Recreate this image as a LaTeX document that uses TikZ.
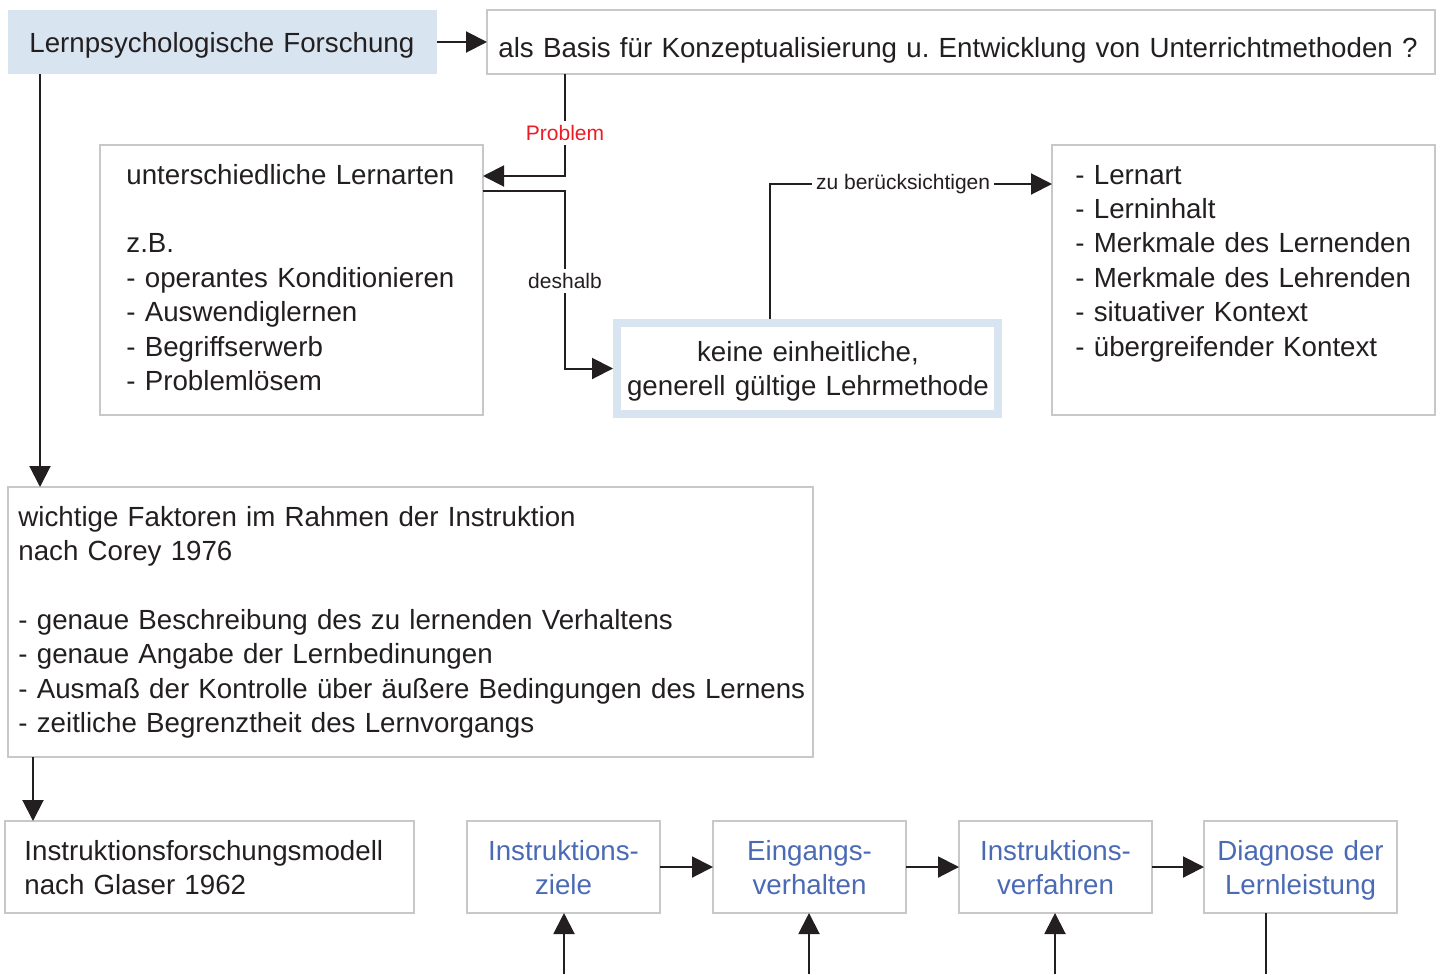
\documentclass[tikz,border=0pt]{standalone}
\usepackage{fontspec}
\setmainfont{Liberation Sans}
\usetikzlibrary{arrows.meta,calc}
\definecolor{txt}{HTML}{231F20}
\definecolor{boxgray}{HTML}{C8C8C8}
\definecolor{lightblue}{HTML}{D9E4F1}
\definecolor{bluetxt}{HTML}{4A6AB5}
\definecolor{probred}{HTML}{ED1C24}
\begin{document}
\frenchspacing
\begin{tikzpicture}[x=0.5pt,y=-0.5pt,
  box/.style={draw=boxgray,line width=1pt,rectangle,inner sep=0pt,outer sep=0pt},
  mainfont/.style={font=\fontsize{13.85}{17.2}\selectfont,text=txt},
  txtL/.style={mainfont,anchor=base west,align=left,inner sep=0pt,text width=#1},
  txtC/.style={mainfont,anchor=base,align=center,inner sep=0pt,text width=#1},
  arr/.style={line width=1pt,draw=txt,-{Triangle[length=10.5pt,width=10.5pt]}},
  conn/.style={line width=1pt,draw=txt},
  lbl/.style={font=\fontsize{10.5}{12}\selectfont,fill=white,inner sep=2pt,text=txt}]
\useasboundingbox (0,0) rectangle (1443,974);

% boxes
\node[box,draw=none,fill=lightblue,minimum width=214.5pt,minimum height=32pt] (A) at (222.5,42) {};
\node[box,minimum width=474pt,minimum height=32pt] (B) at (961,42) {};
\node[box,minimum width=191.5pt,minimum height=135pt] (C) at (291.5,280) {};
\node[draw=lightblue,line width=4pt,rectangle,minimum width=190.5pt,minimum height=45.5pt,inner sep=0pt,outer sep=2pt] (D) at (807.5,368.5) {};
\node[box,minimum width=191.5pt,minimum height=135pt] (E) at (1243.5,280) {};
\node[box,minimum width=402.5pt,minimum height=135pt] (F) at (410.5,622) {};
\node[box,minimum width=204.5pt,minimum height=46pt] (G) at (209.5,867) {};
\node[box,minimum width=96.5pt,minimum height=46pt] (H1) at (563.5,867) {};
\node[box,minimum width=96.5pt,minimum height=46pt] (H2) at (809.5,867) {};
\node[box,minimum width=96.5pt,minimum height=46pt] (H3) at (1055.5,867) {};
\node[box,minimum width=96.5pt,minimum height=46pt] (H4) at (1300.5,867) {};

% texts
\node[txtL=250pt] (tA) at (29,53) {Lernpsychologische Forschung};
\node[txtL=480pt] (tB) at (498,58) {als Basis für Konzeptualisierung u. Entwicklung von Unterrichtmethoden ?};
\node[txtL=190pt] (tC) at (126,184) {unterschiedliche Lernarten\\[17.2pt]
z.B.\\ - operantes Konditionieren\\ - Auswendiglernen\\ - Begriffserwerb\\ - Problemlösem};
\node[txtC=190pt] (tD) at (808,361) {keine einheitliche,\\ generell gültige Lehrmethode};
\node[txtL=190pt] (tE) at (1075,184) {- Lernart\\ - Lerninhalt\\ - Merkmale des Lernenden\\ - Merkmale des Lehrenden\\ - situativer Kontext\\ - übergreifender Kontext};
\node[txtL=400pt] (tF) at (18,526) {wichtige Faktoren im Rahmen der Instruktion\\ nach Corey 1976\\[17.2pt]
- genaue Beschreibung des zu lernenden Verhaltens\\ - genaue Angabe der Lernbedinungen\\ - Ausmaß der Kontrolle über äußere Bedingungen des Lernens\\ - zeitliche Begrenztheit des Lernvorgangs};
\node[txtL=200pt] (tG) at (24,860) {Instruktionsforschungsmodell\\ nach Glaser 1962};
\node[txtC=96pt,text=bluetxt] (tH1) at (563.5,860) {Instruktions-\\ ziele};
\node[txtC=96pt,text=bluetxt] (tH2) at (809.5,860) {Eingangs-\\ verhalten};
\node[txtC=96pt,text=bluetxt] (tH3) at (1055.5,860) {Instruktions-\\ verfahren};
\node[txtC=96pt,text=bluetxt] (tH4) at (1300.5,860) {Diagnose der\\ Lernleistung};

% connectors
\draw[arr] (A.east) -- (B.west);
\draw[arr] (B.south -| 565,0) |- node[lbl,text=probred,pos=0.29] (lProblem) {Problem} (C.east |- 0,176);
\draw[arr] (C.east |- 0,191) -- (565,191) |- node[lbl,pos=0.254] (lDeshalb) {deshalb} (D.west);
\draw[arr] (D.north -| 770,0) |- node[lbl,pos=0.736] (lZu) {zu berücksichtigen} (E.west |- 0,184);
\draw[arr] (A.south -| 40,0) -- (F.north -| 40,0);
\draw[arr] (F.south -| 33,0) -- (G.north -| 33,0);
\draw[arr] (H1.east) -- (H2.west);
\draw[arr] (H2.east) -- (H3.west);
\draw[arr] (H3.east) -- (H4.west);
\coordinate (b1) at (564,974);
\coordinate (b2) at (809,974);
\coordinate (b3) at (1055,974);
\coordinate (b4) at (1266,974);
\draw[arr] (b1) -- (b1 |- H1.south);
\draw[arr] (b2) -- (b2 |- H2.south);
\draw[arr] (b3) -- (b3 |- H3.south);
\draw[conn] (H4.south -| b4) -- (b4);
\end{tikzpicture}
\end{document}
